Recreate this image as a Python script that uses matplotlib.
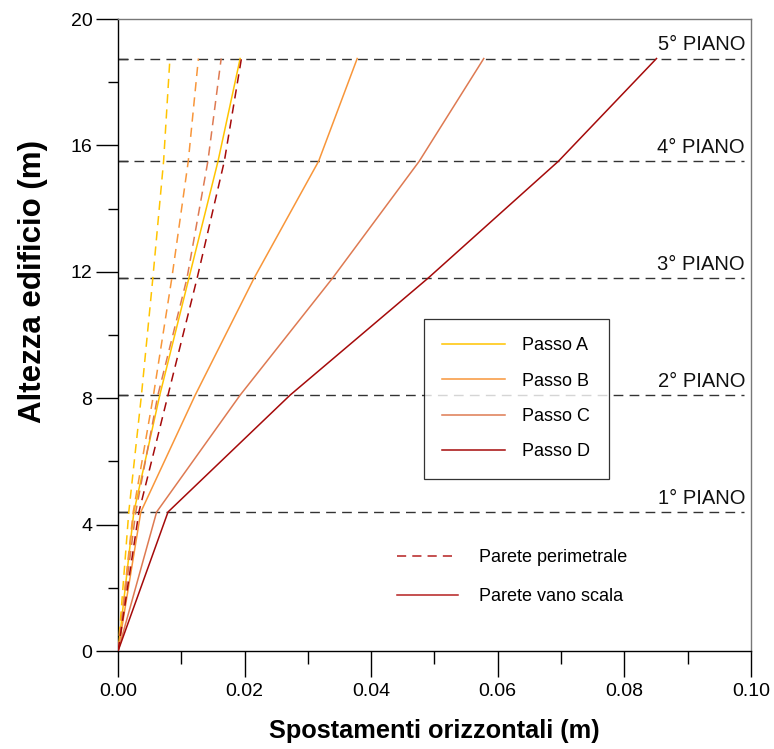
import matplotlib
matplotlib.use("Agg")
import matplotlib.pyplot as plt
from matplotlib.lines import Line2D

plt.rcParams['font.family'] = ['Liberation Sans', 'DejaVu Sans']

# ---- data ----
floor_heights = [0, 4.4, 8.1, 11.8, 15.5, 18.75]
floor_labels = ["1° PIANO", "2° PIANO", "3° PIANO", "4° PIANO", "5° PIANO"]
steps = ["Passo A", "Passo B", "Passo C", "Passo D"]

# Parete vano scala (solid)
scala_A = [0, 0.0025, 0.0066, 0.0112, 0.0158, 0.0193]
scala_B = [0, 0.0036, 0.0122, 0.0215, 0.0317, 0.0378]
scala_C = [0, 0.0061, 0.0193, 0.0339, 0.0476, 0.0578]
scala_D = [0, 0.0079, 0.0272, 0.0490, 0.0696, 0.0851]

# Parete perimetrale (dashed)
perim_A = [0, 0.0017, 0.0037, 0.0055, 0.0072, 0.0082]
perim_B = [0, 0.0024, 0.0056, 0.0085, 0.0111, 0.0127]
perim_C = [0, 0.0028, 0.0063, 0.0109, 0.0142, 0.0163]
perim_D = [0, 0.0033, 0.0079, 0.0125, 0.0168, 0.0195]

x_ticks = [0.00, 0.02, 0.04, 0.06, 0.08, 0.10]
y_ticks = [0, 4, 8, 12, 16, 20]

colors = ['#FFC400', '#F8963A', '#DE7A52', '#A50A0A']

fig = plt.figure(figsize=(7.74, 7.49), dpi=100)
ax = fig.add_axes([0.1525, 0.1308, 0.8175, 0.8438])

# floor lines
for h, lab in zip(floor_heights[1:], floor_labels):
    ax.axhline(h, xmin=0, xmax=0.99, color='#333333', lw=1.0, ls=(0, (7, 4.5)), zorder=1)
    ax.annotate(lab, xy=(0.0991, h), xytext=(0, 3), textcoords='offset points',
                ha='right', va='bottom', fontsize=14.5, color='#111111')

scala = [scala_A, scala_B, scala_C, scala_D]
perim = [perim_A, perim_B, perim_C, perim_D]
step_handles = []
for s, p, c, name in zip(scala, perim, colors, steps):
    ax.plot(p, floor_heights, color=c, lw=1.1, ls=(0, (6, 4)), zorder=3)
    ln, = ax.plot(s, floor_heights, color=c, lw=1.1, zorder=3, label=name)
    step_handles.append(ln)

ax.set_xlim(0, 0.10)
ax.set_ylim(0, 20)
ax.set_xticks(x_ticks)
ax.set_xticklabels([f"{v:.2f}" for v in x_ticks])
ax.set_yticks(y_ticks)
ax.set_xticks([0.01, 0.03, 0.05, 0.07, 0.09], minor=True)
ax.set_yticks([2, 6, 10, 14, 18], minor=True)
ax.tick_params(which='major', direction='out', length=19, width=1.0, labelsize=14, pad=4)
ax.tick_params(which='minor', direction='out', length=9, width=1.0)
ax.tick_params(axis='y', which='major', length=15.5, pad=3)
ax.tick_params(axis='y', which='minor', length=7.5)

# inward ticks at floor levels
sec = ax.secondary_yaxis('left')
sec.set_yticks(floor_heights[1:])
sec.tick_params(direction='in', length=7, width=1.0, labelleft=False)
sec.spines['left'].set_visible(False)

for side in ['top', 'right']:
    ax.spines[side].set_color('#777777')
    ax.spines[side].set_linewidth(1.0)
for side in ['left', 'bottom']:
    ax.spines[side].set_linewidth(1.0)

ax.set_xlabel("Spostamenti orizzontali (m)", fontsize=18.3, fontweight='bold')
ax.xaxis.set_label_coords(0.5, -0.108)
ax.set_ylabel("Altezza edificio (m)", fontsize=22.5, fontweight='bold')
ax.yaxis.set_label_coords(-0.110, 0.585)

leg1 = ax.legend(handles=step_handles, loc='upper left', bbox_to_anchor=(0.4834, 0.5253),
                 frameon=True, fancybox=False, edgecolor='black', fontsize=13,
                 handlelength=3.45, handletextpad=0.98, labelspacing=1.01,
                 borderpad=1.02, borderaxespad=0)
leg1.get_frame().set_linewidth(0.9)
ax.add_artist(leg1)

wall_handles = [Line2D([], [], color='#B52020', lw=1.1, ls=(0, (6, 4))),
                Line2D([], [], color='#B52020', lw=1.1)]
leg2 = ax.legend(handles=wall_handles, labels=["Parete perimetrale", "Parete vano scala"],
                 loc='upper left', bbox_to_anchor=(0.43, 0.173), frameon=False,
                 fontsize=13, handlelength=3.35, handletextpad=1.15, labelspacing=1.24,
                 borderaxespad=0)

fig.savefig("out.png", dpi=100)
